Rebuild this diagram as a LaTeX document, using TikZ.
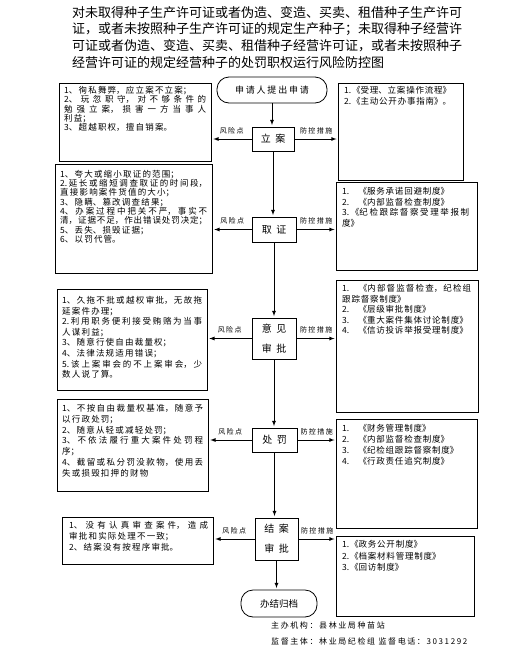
\documentclass[tikz,border=0pt]{standalone}
\usepackage{fontspec}
\setmainfont{Noto Sans CJK SC}
\newfontfamily\boxfont{Noto Sans CJK SC}
\newfontfamily\spacefont[LetterSpace=20]{Noto Sans CJK SC}
\newfontfamily\widefont[LetterSpace=45]{Noto Sans CJK SC}
\usetikzlibrary{arrows}
\newcommand{\risktextfont}[1]{\boxfont\fontsize{8.5}{#1}\selectfont
  \XeTeXlinebreaklocale "zh"\XeTeXlinebreakskip=1.2pt plus 6pt minus 1.2pt\relax}
\newcommand{\ctrltextfont}[1]{\boxfont\fontsize{8.5}{#1}\selectfont
  \XeTeXlinebreaklocale "zh"\XeTeXlinebreakskip=0.8pt plus 6pt minus 0.8pt\relax}

\begin{document}
\begin{tikzpicture}[x=1pt, y=-1pt,
    frame/.style={draw, line width=0.8pt, anchor=north west, inner sep=0pt},
    risktext/.style={anchor=north west, align=justify, inner xsep=5pt, inner ysep=#1,
                     font={\risktextfont{9.3}}},
    risktext/.default=3pt,
    ctrltext/.style={anchor=north west, align=justify, inner xsep=6pt, inner ysep=#1,
                     font={\ctrltextfont{10.8}}},
    ctrltext/.default=3pt,
    process/.style={draw, line width=0.8pt, align=center, inner sep=0pt,
                    font=\widefont\fontsize{10}{20}\selectfont},
    terminal/.style={draw, line width=0.8pt, rounded corners=12pt, inner sep=0pt},
    tag/.style={font=\spacefont\fontsize{7}{8}\selectfont, inner sep=1pt},
    arrow/.style={-latex, line width=0.8pt, shorten >=1.5pt}
]
\useasboundingbox (0,0) rectangle (520,662);

% title
\node[anchor=north west, align=flush left, inner sep=0pt,
      font=\fontsize{13}{16.7}\selectfont] (title) at (72,6)
  {对未取得种子生产许可证或者伪造、变造、买卖、租借种子生产许可\\
   证，或者未按照种子生产许可证的规定生产种子；未取得种子经营许\\
   可证或者伪造、变造、买卖、租借种子经营许可证，或者未按照种子\\
   经营许可证的规定经营种子的处罚职权运行风险防控图};

% main flow
\node[terminal, minimum width=110pt, minimum height=26pt,
      font=\spacefont\fontsize{9}{10}\selectfont] (apply) at (272,90) {申请人提出申请};
\node[process, minimum width=42pt, minimum height=24pt] (lian) at (273,139) {立案};
\node[process, minimum width=44pt, minimum height=25pt] (quzheng) at (274,229.5) {取证};
\node[process, minimum width=44pt, minimum height=41pt] (yijian) at (274,338.5) {意见\\审批};
\node[process, minimum width=45pt, minimum height=24pt] (chufa) at (274.5,440) {处罚};
\node[process, minimum width=43pt, minimum height=42pt] (jiean) at (276.5,539) {结案\\审批};
\node[terminal, minimum width=76pt, minimum height=27pt,
      font=\fontsize{9.5}{11}\selectfont] (guidang) at (279,603.5) {办结归档};

% risk points
\node[frame, minimum width=152pt, minimum height=78pt] (risk1) at (59,83) {};
\node[risktext, text width=142pt] (risk1text) at (risk1.north west)
  {1、徇私舞弊，应立案不立案；\\
   2、玩忽职守，对不够条件的\linebreak
   勉强立案，损害一方当事人\linebreak
   利益；\\
   3、超越职权，擅自销案。};

\node[frame, minimum width=157pt, minimum height=109pt] (risk2) at (55,164) {};
\node[risktext=6pt, text width=147pt] (risk2text) at (risk2.north west)
  {1、夸大或缩小取证的范围；\\
   2.延长或缩短调查取证的时间段，\linebreak
   直接影响案件货值的大小；\\
   3、隐瞒、篡改调查结果；\\
   4、办案过程中把关不严，事实不\linebreak
   清，证据不足，作出错误处罚决定；\\
   5、丢失、损毁证据；\\
   6、以罚代管。};

\node[frame, minimum width=150pt, minimum height=101pt] (risk3) at (57,289) {};
\node[risktext=7pt, text width=140pt, font={\risktextfont{10.6}}] (risk3text) at (risk3.north west)
  {1、久拖不批或越权审批，无故拖\linebreak
   延案件办理；\\
   2.利用职务便利接受贿赂为当事\linebreak
   人谋利益；\\
   3、随意行使自由裁量权；\\
   4、法律法规适用错误；\\
   5.该上案审会的不上案审会，少\linebreak
   数人说了算。};

\node[frame, minimum width=151pt, minimum height=92pt] (risk4) at (57,399) {};
\node[risktext=5pt, text width=141pt, font={\risktextfont{10.8}}] (risk4text) at (risk4.north west)
  {1、不按自由裁量权基准，随意予\linebreak
   以行政处罚；\\
   2、随意从轻或减轻处罚；\\
   3、不依法履行重大案件处罚程\linebreak
   序；\\
   4、截留或私分罚没款物，使用丢\linebreak
   失或损毁扣押的财物};

\node[frame, minimum width=151pt, minimum height=47pt] (risk5) at (62,517) {};
\node[risktext=4pt, text width=139pt, inner xsep=7pt, font={\risktextfont{10.8}}] (risk5text) at (risk5.north west)
  {1、没有认真审查案件，造成\linebreak
   审批和实际处理不一致；\\
   2、结案没有按程序审批。};

% control measures
\node[frame, minimum width=125pt, minimum height=97pt] (ctrl1) at (338,83) {};
\node[ctrltext, text width=113pt] (ctrl1text) at (ctrl1.north west)
  {1.《受理、立案操作流程》\\
   2.《主动公开办事指南》。};

\node[frame, minimum width=141pt, minimum height=88pt] (ctrl2) at (336,182) {};
\node[ctrltext=5pt, text width=127pt] (ctrl2text) at (ctrl2.north west)
  {1.　《服务承诺回避制度》\\
   2.　《内部监督检查制度》\\
   3.《纪检跟踪督察受理举报制\linebreak
   度》};

\node[frame, minimum width=142pt, minimum height=132pt] (ctrl3) at (336,280) {};
\node[ctrltext=4.5pt, text width=129pt, font={\ctrltextfont{10.4}}] (ctrl3text) at (ctrl3.north west)
  {1.　《内部督监督检查，纪检组\linebreak
   跟踪督察制度》\\
   2.　《层级审批制度》\\
   3.　《重大案件集体讨论制度》\\
   4.　《信访投诉举报受理制度》};

\node[frame, minimum width=141pt, minimum height=109pt] (ctrl4) at (336,419) {};
\node[ctrltext=5.5pt, text width=129pt, font={\ctrltextfont{10.9}}] (ctrl4text) at (ctrl4.north west)
  {1.　《财务管理制度》\\
   2.　《内部监督检查制度》\\
   3.　《纪检组跟踪督察制度》\\
   4.　《行政责任追究制度》};

\node[frame, minimum width=138pt, minimum height=80pt] (ctrl5) at (336,536) {};
\node[ctrltext=4.5pt, text width=126pt, font={\ctrltextfont{11.2}}] (ctrl5text) at (ctrl5.north west)
  {1.《政务公开制度》\\
   2.《档案材料管理制度》\\
   3.《回访制度》};

% footer
\node[anchor=west, inner sep=0pt, font=\spacefont\fontsize{8}{9}\selectfont] (host) at (271,625)
  {主办机构：县林业局种苗站};
\node[anchor=west, inner sep=0pt, font=\spacefont\fontsize{8}{9}\selectfont] (supervise) at (271,641)
  {监督主体：林业局纪检组 监督电话：3031292};

% flow arrows
\draw[arrow] (apply.south) -- (apply.south |- lian.north);
\draw[arrow] (lian.south) -- (lian.south |- quzheng.north);
\draw[arrow] (quzheng.south) -- (quzheng.south |- yijian.north);
\draw[arrow] (yijian.south) -- (yijian.south |- chufa.north);
\draw[arrow] (chufa.south) -- (chufa.south |- jiean.north);
\draw[arrow] (jiean.south) -- (jiean.south |- guidang.north);

% risk and control arrows
\foreach \stage/\risk/\ctrl in {lian/risk1/ctrl1, quzheng/risk2/ctrl2, yijian/risk3/ctrl3,
                                chufa/risk4/ctrl4, jiean/risk5/ctrl5} {
  \draw[arrow] (\stage.west) -- (\stage.west -| \risk.east)
    node[midway, above=4pt, tag] {风险点};
  \draw[arrow] (\stage.east) -- (\stage.east -| \ctrl.west)
    node[midway, above=4pt, tag] {防控措施};
}
\end{tikzpicture}
\end{document}
